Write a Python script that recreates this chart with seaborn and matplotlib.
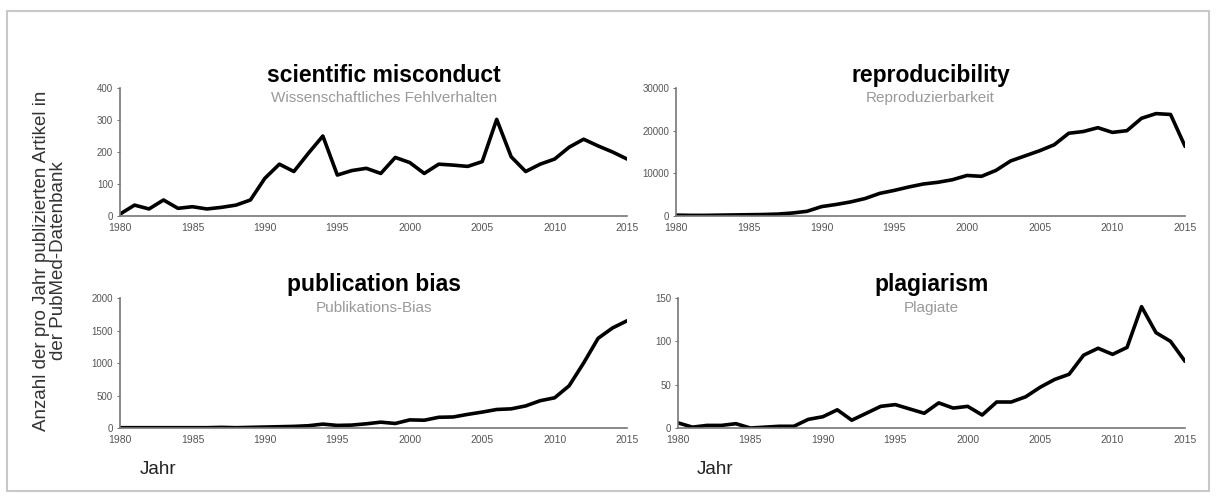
import matplotlib
matplotlib.use("Agg")
import matplotlib.pyplot as plt
import pandas as pd
import seaborn as sns
from matplotlib.patches import Rectangle

years = list(range(1980, 2016))

misconduct = [6, 34, 22, 50, 24, 29, 22, 27, 34, 50,
              118, 162, 139, 196, 250, 128, 142, 149, 133, 183,
              167, 133, 162, 159, 155, 170, 302, 185, 139, 162,
              178, 215, 240, 219, 200, 178]

reproducibility = [200, 150, 150, 200, 250, 300, 350, 450, 700, 1100,
                   2200, 2700, 3300, 4100, 5300, 6000, 6800, 7500, 7900, 8500,
                   9500, 9300, 10700, 12900, 14100, 15300, 16700, 19400, 19800, 20700,
                   19600, 20000, 22900, 24000, 23800, 16300]

pub_bias = [5, 5, 5, 5, 5, 5, 5, 10, 5, 10,
            15, 20, 25, 35, 60, 40, 45, 65, 90, 70,
            125, 120, 165, 170, 210, 245, 285, 295, 340, 420,
            465, 650, 1000, 1380, 1540, 1650]

plagiarism = [6, 1, 3, 3, 5, 0, 1, 2, 2, 10,
              13, 21, 9, 17, 25, 27, 22, 17, 29, 23,
              25, 15, 30, 30, 36, 47, 56, 62, 84, 92,
              85, 93, 140, 110, 100, 77]

titles = ["scientific misconduct", "reproducibility", "publication bias", "plagiarism"]
subtitles = ["Wissenschaftliches Fehlverhalten", "Reproduzierbarkeit", "Publikations-Bias", "Plagiate"]
y_ticks = [[0, 100, 200, 300, 400],
           [0, 10000, 20000, 30000],
           [0, 500, 1000, 1500, 2000],
           [0, 50, 100, 150]]
x_ticks = list(range(1980, 2016, 5))

sns.set_theme(style="white")
plt.rcParams["font.family"] = ["Liberation Sans", "DejaVu Sans"]

fig = plt.figure(figsize=(12.16, 4.97), dpi=100)
fig.patches.append(Rectangle((0.006, 0.012), 0.988, 0.966, transform=fig.transFigure,
                             fill=False, edgecolor="#c8c8c8", linewidth=1.5))

boxes = [[0.0987, 0.5654, 0.4170, 0.2575],
         [0.5560, 0.5654, 0.4186, 0.2575],
         [0.0987, 0.1388, 0.4170, 0.2616],
         [0.5575, 0.1388, 0.4170, 0.2616]]
title_x = [0.52, 0.5, 0.5, 0.5]
series = [misconduct, reproducibility, pub_bias, plagiarism]

for box, vals, title, sub, yt, tx in zip(boxes, series, titles, subtitles, y_ticks, title_x):
    ax = fig.add_axes(box)
    df = pd.DataFrame({"year": years, "count": vals})
    sns.lineplot(data=df, x="year", y="count", ax=ax, color="black", linewidth=2.6)
    ax.set_xlim(1980, 2015)
    ax.set_ylim(yt[0], yt[-1])
    ax.set_xticks(x_ticks)
    ax.set_yticks(yt)
    ax.set_xlabel("")
    ax.set_ylabel("")
    ax.tick_params(axis="both", colors="#555555", length=2, width=0.6,
                   direction="out", pad=3, left=True, bottom=False)
    ax.tick_params(axis="x", labelsize=7.5)
    ax.tick_params(axis="y", labelsize=7)
    for side in ["top", "right"]:
        ax.spines[side].set_visible(False)
    for side in ["left", "bottom"]:
        ax.spines[side].set_color("#777777")
        ax.spines[side].set_linewidth(1.2)
    ax.text(tx, 1.10, title, transform=ax.transAxes, ha="center", va="center",
            fontsize=16.5, fontweight="bold", color="black")
    ax.text(tx, 0.92, sub, transform=ax.transAxes, ha="center", va="center",
            fontsize=11, color="#999999")

fig.text(0.041, 0.475, "Anzahl der pro Jahr publizierten Artikel in\nder PubMed-Datenbank",
         rotation=90, ha="center", va="center", fontsize=13.5, color="#333333",
         linespacing=1.0)
fig.text(0.115, 0.056, "Jahr", ha="left", va="center", fontsize=13.5, color="#222222")
fig.text(0.573, 0.056, "Jahr", ha="left", va="center", fontsize=13.5, color="#222222")

fig.savefig("out.png", dpi=100)
